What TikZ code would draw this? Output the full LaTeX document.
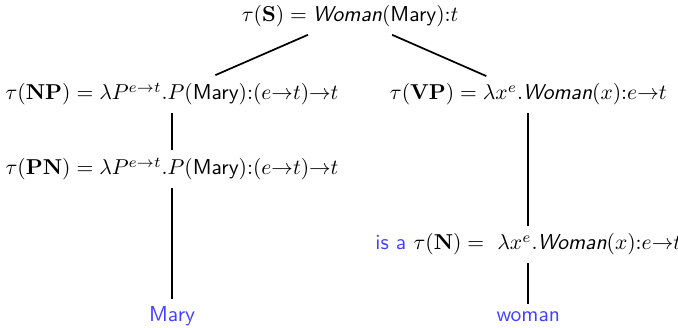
\documentclass[tikz,border=0pt]{standalone}
\usepackage{amsmath,amssymb}
\usepackage{xcolor}
\usepackage{tikz}

\definecolor{leafblue}{RGB}{64,64,255}
\newcommand{\predsf}[1]{\textsf{\textit{#1}}}
\newcommand{\namesf}[1]{\textsf{#1}}

\begin{document}
\begin{tikzpicture}[
  every node/.style={font=\sffamily},
  sem/.style={anchor=base},
  word/.style={anchor=base, text=leafblue},
  branch/.style={thick}
]
  \useasboundingbox (0,0) rectangle (11.06,5.35);

  \node[sem] (s) at (5.712,4.994) {$\tau(\mathbf{S}) = \predsf{Woman}(\namesf{Mary}){:}t$};
  \node[sem] (np) at (2.807,3.721) {$\tau(\mathbf{NP}) = \lambda P^{e{\to}t}.P(\namesf{Mary}){:}(e{\to}t){\to}t$};
  \node[sem] (vp) at (8.617,3.721) {$\tau(\mathbf{VP}) = \lambda x^{e}.\predsf{Woman}(x){:}e{\to}t$};
  \node[sem] (pn) at (2.807,2.497) {$\tau(\mathbf{PN}) = \lambda P^{e{\to}t}.P(\namesf{Mary}){:}(e{\to}t){\to}t$};
  \node[sem] (n) at (8.617,1.273) {\textcolor{leafblue}{is a} $\tau(\mathbf{N}) = \ \lambda x^{e}.\predsf{Woman}(x){:}e{\to}t$};
  \node[word] (mary) at (2.807,0.098) {Mary};
  \node[word] (woman) at (8.617,0.098) {woman};

  \draw[branch] (s) -- (np);
  \draw[branch] (s) -- (vp);
  \draw[branch] (np) -- (pn);
  \draw[branch] (pn) -- (mary);
  \draw[branch] (vp) -- (n);
  \draw[branch] (n) -- (woman);
\end{tikzpicture}
\end{document}
